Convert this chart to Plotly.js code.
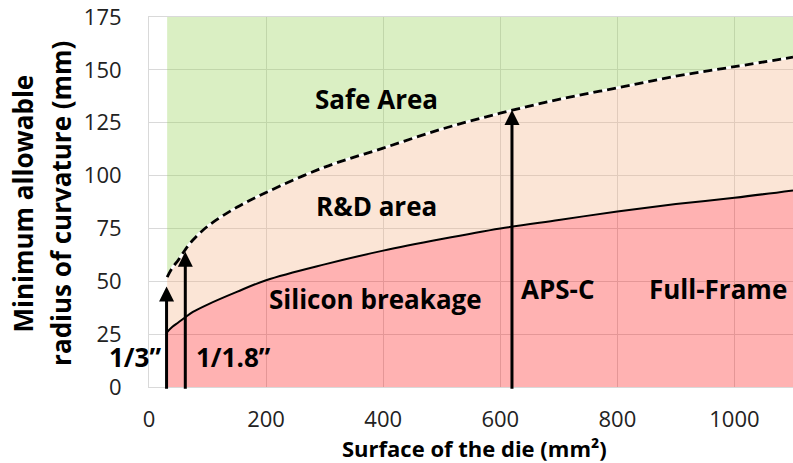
<!DOCTYPE html>
<html>
<head>
<meta charset="utf-8">
<script src="https://cdn.plot.ly/plotly-3.0.1.min.js"></script>
<style>html,body{margin:0;padding:0;background:#fff;}#chart{width:793px;height:463px;}</style>
</head>
<body>
<div id="chart"></div>
<script>
// Die surface (mm²)
const dieSurface = [31, 40, 50, 62, 75, 100, 150, 200, 300, 400, 500, 600, 700, 800, 900, 1000, 1100];
// Silicon breakage limit (solid curve), mm
const breakageRadius = [26, 28.5, 30.5, 33, 35.5, 39, 45, 50.5, 58, 64.5, 70, 75, 79, 83, 86.5, 89.5, 93];
// Safe limit (dashed curve), mm
const safeRadius = [52, 56.5, 60, 65, 69.5, 76, 85, 92, 104, 113, 122, 129.5, 136, 141.5, 147, 151.5, 156];
// Top of the chart area
const yMax = 175;
const topRadius = dieSurface.map(() => yMax);

// Sensor formats (arrows)
const sensorNames = ["1/3\u201d", "1/1.8\u201d", "APS-C"];
const sensorSurface = [30, 62, 620];
const sensorArrowTop = [47.5, 64, 131];

// Region labels
const regionLabels = ["Safe Area", "R&D area", "Silicon breakage", "APS-C", "Full-Frame"];
const regionX = [388, 389, 387, 699, 972];
const regionY = [136, 85.7, 41.5, 46.5, 46.5];

const FONT = "'Open Sans', sans-serif";

const traces = [
  { x: dieSurface, y: breakageRadius, mode: 'lines', fill: 'tozeroy',
    fillcolor: 'rgba(255,0,0,0.30)', line: { width: 0, shape: 'spline' }, hoverinfo: 'skip' },
  { x: dieSurface, y: safeRadius, mode: 'lines', fill: 'tonexty',
    fillcolor: 'rgba(244,177,131,0.33)', line: { width: 0, shape: 'spline' }, hoverinfo: 'skip' },
  { x: dieSurface, y: topRadius, mode: 'lines', fill: 'tonexty',
    fillcolor: 'rgba(146,208,80,0.34)', line: { width: 0 }, hoverinfo: 'skip' },
  { x: dieSurface, y: breakageRadius, mode: 'lines',
    line: { color: '#000', width: 2, shape: 'spline' }, hoverinfo: 'skip' },
  { x: dieSurface, y: safeRadius, mode: 'lines',
    line: { color: '#fff', width: 2.5, shape: 'spline' }, hoverinfo: 'skip' },
  { x: dieSurface, y: safeRadius, mode: 'lines',
    line: { color: '#000', width: 2.8, shape: 'spline', dash: '9px,5px' }, hoverinfo: 'skip' }
];

const annotations = [];
sensorSurface.forEach((sx, i) => {
  annotations.push({ x: sx, y: sensorArrowTop[i], ax: sx, ay: -1.5, xref: 'x', yref: 'y',
    axref: 'x', ayref: 'y', text: '', showarrow: true, arrowhead: 2, arrowsize: 1,
    arrowwidth: 3, arrowcolor: '#000', standoff: 0 });
});
regionLabels.forEach((t, i) => {
  annotations.push({ x: regionX[i], y: regionY[i], xref: 'x', yref: 'y', text: t,
    showarrow: false, font: { family: FONT, size: 26, color: '#000', weight: 'bold' } });
});
// sensor name labels
annotations.push({ x: -0.0225, y: 14 / yMax, xref: 'paper', yref: 'paper', text: sensorNames[0], showarrow: false,
  xanchor: 'center', yanchor: 'middle',
  font: { family: FONT, size: 26, color: '#000', weight: 'bold' } });
annotations.push({ x: 144, y: 14, xref: 'x', yref: 'y', text: sensorNames[1], showarrow: false,
  font: { family: FONT, size: 26, color: '#000', weight: 'bold' } });
// axis titles
annotations.push({ x: 0.505, y: -0.165, xref: 'paper', yref: 'paper', text: 'Surface of the die (mm\u00b2)',
  showarrow: false, xanchor: 'center', yanchor: 'middle',
  font: { family: FONT, size: 22, color: '#000', weight: 'bold' } });
annotations.push({ x: -0.195, y: 0.497, xref: 'paper', yref: 'paper', text: 'Minimum allowable',
  showarrow: false, textangle: -90, xanchor: 'center', yanchor: 'middle',
  font: { family: FONT, size: 26, color: '#000', weight: 'bold' } });
annotations.push({ x: -0.137, y: 0.497, xref: 'paper', yref: 'paper', text: 'radius of curvature (mm)',
  showarrow: false, textangle: -90, xanchor: 'center', yanchor: 'middle',
  font: { family: FONT, size: 26, color: '#000', weight: 'bold' } });

const layout = {
  width: 793, height: 463,
  margin: { l: 149, r: 0, t: 17, b: 76 },
  paper_bgcolor: '#fff', plot_bgcolor: '#fff',
  showlegend: false,
  xaxis: { range: [0, 1100], tick0: 0, dtick: 200, showgrid: true, gridcolor: '#d9d9d9',
    zeroline: false, showline: true, linecolor: '#d9d9d9', mirror: true, ticks: '',
    ticklabelstandoff: 13, tickfont: { family: FONT, size: 22, color: '#222' } },
  yaxis: { range: [0, yMax], tick0: 0, dtick: 25, showgrid: true, gridcolor: '#d9d9d9',
    zeroline: false, showline: true, linecolor: '#d9d9d9', mirror: false, ticks: '',
    ticklabelstandoff: 22, tickfont: { family: FONT, size: 22, color: '#222' } },
  annotations: annotations
};

Plotly.newPlot('chart', traces, layout, { displayModeBar: false, staticPlot: true });
</script>
</body>
</html>
